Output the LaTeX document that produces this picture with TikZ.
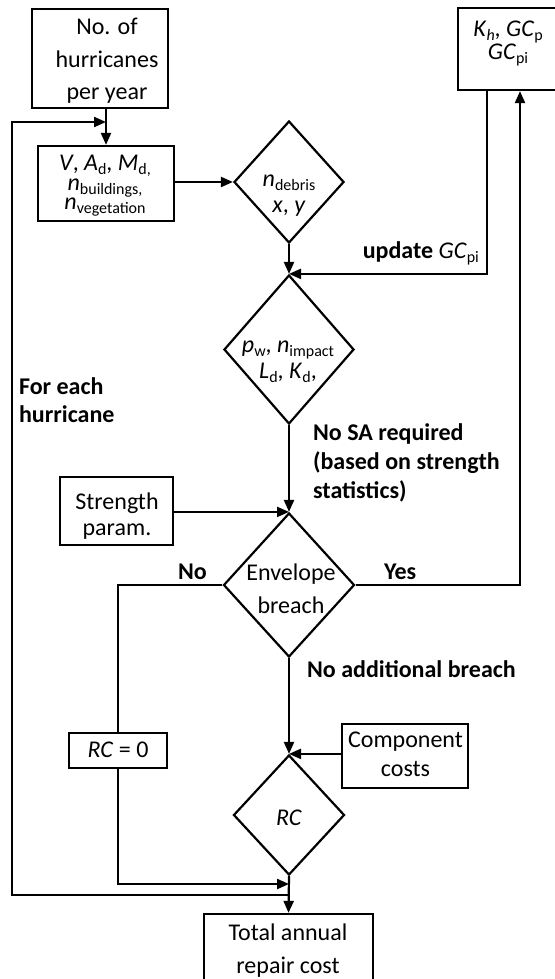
\documentclass[tikz,border=0pt]{standalone}
\usepackage{fontspec}
\setmainfont{Carlito}
\usetikzlibrary{arrows.meta,shapes.geometric}
% small lowered index text
\newcommand\lowsub[1]{\raisebox{-4pt}{\fontsize{16}{16}\selectfont #1}}
\begin{document}
\begin{tikzpicture}[x=1pt, y=-1pt, line width=2.2pt,
  font=\fontsize{24}{30}\selectfont,
  box/.style={draw, rectangle, inner sep=0pt},
  dia/.style={draw, diamond, inner sep=0pt},
  lbl/.style={inner sep=0pt, align=center},
  note/.style={inner sep=0pt, align=left, font=\fontsize{24}{29}\selectfont\bfseries},
  arr/.style={-{Triangle[length=12pt,width=10pt]}}]
\useasboundingbox[fill=white] (0,0) rectangle (554,979);

% shapes
\node[box, minimum width=136pt, minimum height=99pt] (hur) at (100,58.5) {};
\node[box, minimum width=136pt, minimum height=75pt] (vin) at (106,183.5) {};
\node[dia, minimum width=110pt, minimum height=122pt] (deb) at (289,182) {};
\node[box, minimum width=98pt, minimum height=82pt] (kh) at (507,49) {};
\node[dia, minimum width=130pt, minimum height=149pt] (imp) at (289,349.5) {};
\node[box, minimum width=113pt, minimum height=68pt] (str) at (116.5,511) {};
\node[dia, minimum width=131pt, minimum height=144pt] (env) at (289,585) {};
\node[box, minimum width=98pt, minimum height=35pt] (rc0) at (118,750.5) {};
\node[box, minimum width=126pt, minimum height=64pt] (comp) at (405,756) {};
\node[dia, minimum width=111pt, minimum height=120pt] (rc) at (289,815) {};
\node[box, minimum width=169pt, minimum height=66pt] (tot) at (288.5,947) {};

% texts inside the shapes
\node[lbl, font=\fontsize{24}{32.5}\selectfont] (hurT) at (107,61) {No. of\\hurricanes\\per year};
\node[lbl, font=\fontsize{24}{19.5}\selectfont] (vinT) at (105,186)
  {\textit{V}, \textit{A}\lowsub{d}, \textit{M}\lowsub{d,}\\
   \textit{n}\lowsub{buildings,}\\ \textit{n}\lowsub{vegetation}};
\node[lbl, font=\fontsize{24}{26}\selectfont] (debT) at (289,196) {\textit{n}\lowsub{debris}\\ \textit{x}, \textit{y}};
\node[lbl, font=\fontsize{24}{23}\selectfont] (khT) at (508,44)
  {\textit{K}\lowsub{\textit{h}}, \textit{GC}\lowsub{p}\\ \textit{GC}\lowsub{pi}};
\node[lbl, font=\fontsize{24}{26}\selectfont] (impT) at (288,362)
  {\textit{p}\lowsub{w}, \textit{n}\lowsub{impact}\\ \textit{L}\lowsub{d}, \textit{K}\lowsub{d},};
\node[lbl, font=\fontsize{24}{26}\selectfont] (strT) at (117,516) {Strength\\param.};
\node[lbl, font=\fontsize{24}{33}\selectfont] (envT) at (291,589) {Envelope\\breach};
\node[lbl] (rc0T) at (118,750) {\textit{RC} = 0};
\node[lbl, font=\fontsize{24}{29}\selectfont] (compT) at (405.5,754) {Component\\costs};
\node[lbl] (rcT) at (289,818) {\textit{RC}};
\node[lbl, font=\fontsize{24}{33}\selectfont] (totT) at (288,950.5) {Total annual\\repair cost};

% labels along the connectors
\node[inner sep=0pt, anchor=base east] (updT) at (480,258) {\textbf{update} \textit{GC}\lowsub{pi}};
\node[note, anchor=west, font=\fontsize{24}{28}\selectfont\bfseries] (eachT) at (18,400.5) {For each\\hurricane};
\node[note, anchor=west] (saT) at (312,463) {No SA required\\(based on strength\\statistics)};
\node[inner sep=0pt, anchor=base west, font=\fontsize{24}{30}\selectfont\bfseries] (noT) at (177,579) {No};
\node[inner sep=0pt, anchor=base west, font=\fontsize{24}{30}\selectfont\bfseries] (yesT) at (383,579) {Yes};
\node[inner sep=0pt, anchor=base west, font=\fontsize{24}{30}\selectfont\bfseries] (addT) at (306,677) {No additional breach};

% junction points
\coordinate (loopR) at (289,895);
\coordinate (loopBL) at (12,895);
\coordinate (loopTL) at (12,122);
\coordinate (loopIn) at (106,122);
\coordinate (join) at (289,884);

% connectors
\draw[arr] (hur.south -| vin.north) -- (vin.north);
\draw[arr] (loopR) -- (loopBL) -- (loopTL) -- (loopIn);
\draw[arr] (vin.east |- deb.west) -- (deb.west);
\draw[arr] (deb.south) -- (imp.north);
\draw[arr] ([xshift=-20pt]kh.south) |- (imp.north);
\draw[arr] (imp.south) -- (env.north);
\draw[arr] (str.east |- env.north) -- (env.north);
\draw[arr] (env.east) -| ([xshift=13pt]kh.south);
\draw (env.west) -| (rc0.north);
\draw[arr] (rc0.south) |- (join);
\draw[arr] (env.south) -- (rc.north);
\draw[arr] (comp.west |- rc.north) -- (rc.north);
\draw[arr] (rc.south) -- (tot.north);
\end{tikzpicture}
\end{document}
